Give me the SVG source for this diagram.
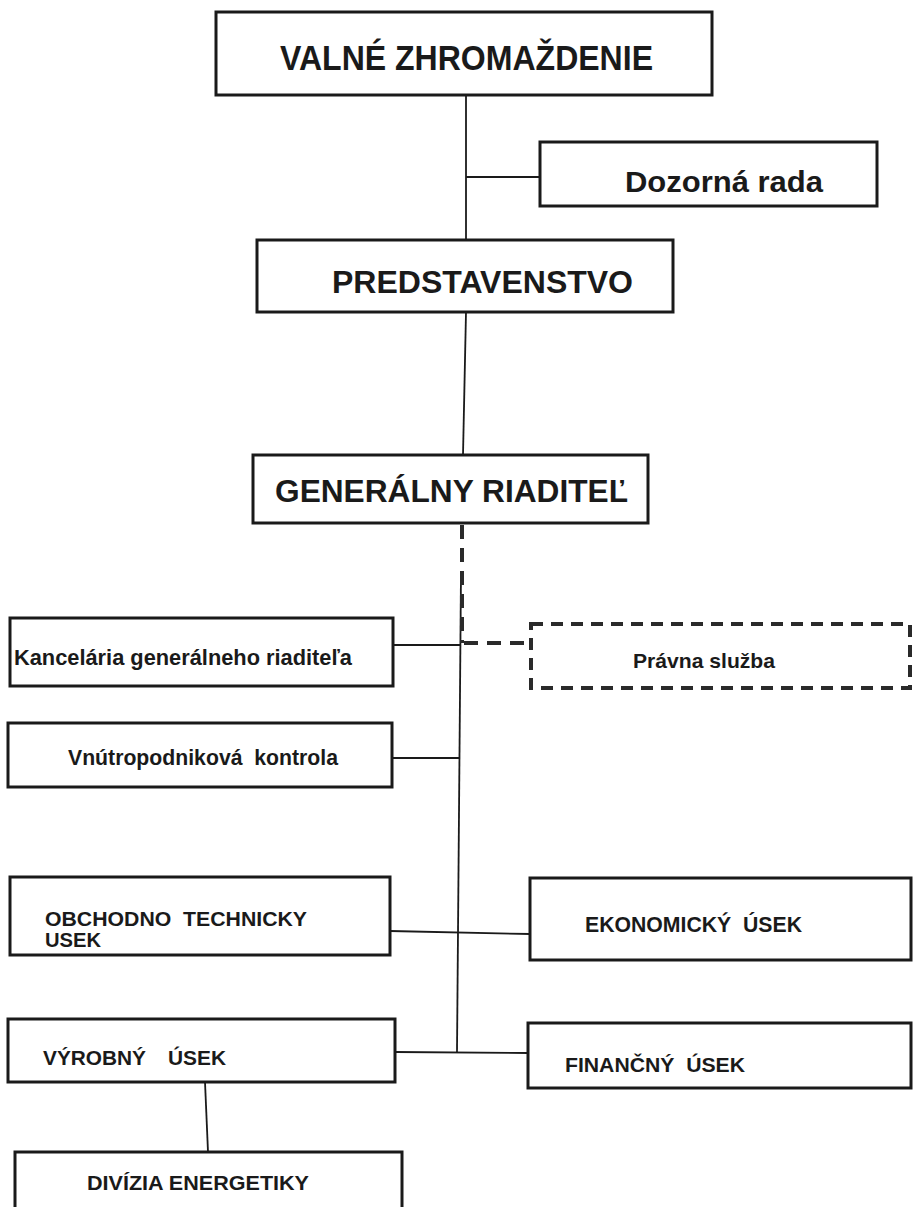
<svg xmlns="http://www.w3.org/2000/svg" width="913" height="1207" viewBox="0 0 913 1207">
<style>
.box{fill:#fff;stroke:#1a1a1a;stroke-width:3}
.dbox{fill:#fff;stroke:#2a2a2a;stroke-width:4;stroke-dasharray:12 8}
.conn{stroke:#1a1a1a;stroke-width:1.8;fill:none}
.dconn{stroke:#2a2a2a;stroke-width:4;fill:none;stroke-dasharray:14 9}
.t{font-family:"Liberation Sans",Arial,sans-serif;font-weight:bold;fill:#1a1a1a}
</style>
<rect width="913" height="1207" fill="#fff"/>
<g id="connectors">
<line class="conn" x1="466" y1="95" x2="466" y2="240"/>
<line class="conn" x1="466" y1="177" x2="540" y2="177"/>
<line class="conn" x1="466" y1="312" x2="463" y2="455"/>
<line class="conn" x1="461" y1="573" x2="457" y2="1052"/>
<line class="dconn" x1="462" y1="525" x2="462" y2="643"/>
<line class="dconn" x1="464" y1="643" x2="531" y2="643"/>
<line class="conn" x1="393" y1="645" x2="461" y2="645"/>
<line class="conn" x1="392" y1="758" x2="460" y2="758"/>
<line class="conn" x1="390" y1="931" x2="530" y2="934"/>
<line class="conn" x1="395" y1="1052" x2="528" y2="1053"/>
<line class="conn" x1="205" y1="1082" x2="208" y2="1152"/>
</g>
<g id="valne-zhromazdenie">
<rect class="box" x="216" y="12" width="496" height="83"/>
<text class="t" x="280" y="70" font-size="35" textLength="373" lengthAdjust="spacingAndGlyphs">VALNÉ ZHROMAŽDENIE</text>
</g>
<g id="dozorna-rada">
<rect class="box" x="540" y="142" width="337" height="64"/>
<text class="t" x="625" y="192" font-size="30" textLength="198" lengthAdjust="spacingAndGlyphs">Dozorná rada</text>
</g>
<g id="predstavenstvo">
<rect class="box" x="257" y="240" width="416" height="72"/>
<text class="t" x="332" y="293" font-size="32" textLength="301" lengthAdjust="spacingAndGlyphs">PREDSTAVENSTVO</text>
</g>
<g id="generalny-riaditel">
<rect class="box" x="253" y="455" width="395" height="68"/>
<text class="t" x="275" y="502" font-size="32" textLength="353" lengthAdjust="spacingAndGlyphs">GENERÁLNY RIADITEĽ</text>
</g>
<g id="kancelaria">
<rect class="box" x="10" y="618" width="383" height="68"/>
<text class="t" x="14" y="665" font-size="22" textLength="338" lengthAdjust="spacingAndGlyphs">Kancelária generálneho riaditeľa</text>
</g>
<g id="pravna-sluzba">
<rect class="dbox" x="531" y="624" width="379" height="64"/>
<text class="t" x="633" y="668" font-size="21" textLength="142" lengthAdjust="spacingAndGlyphs">Právna služba</text>
</g>
<g id="vnutropodnikova-kontrola">
<rect class="box" x="8" y="723" width="384" height="64"/>
<text class="t" x="68" y="765" font-size="22" textLength="270" lengthAdjust="spacingAndGlyphs" xml:space="preserve">Vnútropodniková  kontrola</text>
</g>
<g id="obchodno-technicky-usek">
<rect class="box" x="10" y="877" width="380" height="78"/>
<text class="t" x="45" y="926" font-size="21" textLength="262" lengthAdjust="spacingAndGlyphs" xml:space="preserve">OBCHODNO  TECHNICKY</text>
<text class="t" x="45" y="947" font-size="21" textLength="56" lengthAdjust="spacingAndGlyphs">USEK</text>
</g>
<g id="ekonomicky-usek">
<rect class="box" x="530" y="878" width="381" height="82"/>
<text class="t" x="585" y="932" font-size="22" textLength="217" lengthAdjust="spacingAndGlyphs" xml:space="preserve">EKONOMICKÝ  ÚSEK</text>
</g>
<g id="vyrobny-usek">
<rect class="box" x="8" y="1019" width="387" height="63"/>
<text class="t" x="43" y="1065" font-size="21"><tspan textLength="103" lengthAdjust="spacingAndGlyphs">VÝROBNÝ</tspan><tspan x="168" textLength="58" lengthAdjust="spacingAndGlyphs">ÚSEK</tspan></text>
</g>
<g id="financny-usek">
<rect class="box" x="528" y="1023" width="383" height="65"/>
<text class="t" x="565" y="1072" font-size="21" textLength="180" lengthAdjust="spacingAndGlyphs" xml:space="preserve">FINANČNÝ  ÚSEK</text>
</g>
<g id="divizia-energetiky">
<rect class="box" x="15" y="1152" width="387" height="70"/>
<text class="t" x="87" y="1190" font-size="21" textLength="222" lengthAdjust="spacingAndGlyphs">DIVÍZIA ENERGETIKY</text>
</g>
</svg>
